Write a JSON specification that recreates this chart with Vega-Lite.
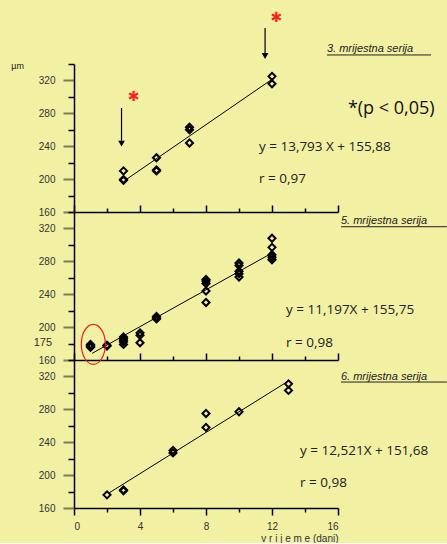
{
  "$schema": "https://vega.github.io/schema/vega-lite/v6.json",
  "background": "#f2f0a2",
  "padding": {"left": 11, "top": 10, "right": 0, "bottom": 0},
  "spacing": 0,
  "bounds": "flush",
  "datasets": {
    "pts": [
      {"panel": 1, "day": 3, "um": 210}, {"panel": 1, "day": 3, "um": 199.5}, {"panel": 1, "day": 3, "um": 198.5},
      {"panel": 1, "day": 5, "um": 226}, {"panel": 1, "day": 5, "um": 211}, {"panel": 1, "day": 5, "um": 210},
      {"panel": 1, "day": 7, "um": 263}, {"panel": 1, "day": 7, "um": 260}, {"panel": 1, "day": 7, "um": 244},
      {"panel": 1, "day": 12, "um": 325}, {"panel": 1, "day": 12, "um": 316},
      {"panel": 2, "day": 1, "um": 179}, {"panel": 2, "day": 1, "um": 178}, {"panel": 2, "day": 1, "um": 177}, {"panel": 2, "day": 1, "um": 176}, {"panel": 2, "day": 1, "um": 175.5},
      {"panel": 2, "day": 2, "um": 178}, {"panel": 2, "day": 2, "um": 177},
      {"panel": 2, "day": 3, "um": 188}, {"panel": 2, "day": 3, "um": 186}, {"panel": 2, "day": 3, "um": 184}, {"panel": 2, "day": 3, "um": 182}, {"panel": 2, "day": 3, "um": 179},
      {"panel": 2, "day": 4, "um": 193}, {"panel": 2, "day": 4, "um": 190}, {"panel": 2, "day": 4, "um": 181},
      {"panel": 2, "day": 5, "um": 213}, {"panel": 2, "day": 5, "um": 211}, {"panel": 2, "day": 5, "um": 210},
      {"panel": 2, "day": 8, "um": 258}, {"panel": 2, "day": 8, "um": 256}, {"panel": 2, "day": 8, "um": 253}, {"panel": 2, "day": 8, "um": 244}, {"panel": 2, "day": 8, "um": 230},
      {"panel": 2, "day": 10, "um": 278}, {"panel": 2, "day": 10, "um": 275}, {"panel": 2, "day": 10, "um": 268}, {"panel": 2, "day": 10, "um": 265}, {"panel": 2, "day": 10, "um": 261},
      {"panel": 2, "day": 12, "um": 308}, {"panel": 2, "day": 12, "um": 297}, {"panel": 2, "day": 12, "um": 288}, {"panel": 2, "day": 12, "um": 285}, {"panel": 2, "day": 12, "um": 282},
      {"panel": 3, "day": 2, "um": 176},
      {"panel": 3, "day": 3, "um": 182}, {"panel": 3, "day": 3, "um": 181},
      {"panel": 3, "day": 6, "um": 230}, {"panel": 3, "day": 6, "um": 227},
      {"panel": 3, "day": 8, "um": 275}, {"panel": 3, "day": 8, "um": 258},
      {"panel": 3, "day": 10, "um": 277},
      {"panel": 3, "day": 13, "um": 311}, {"panel": 3, "day": 13, "um": 303}
    ],
    "fit": [
      {"panel": 1, "x1": 3.1, "y1": 198.6, "x2": 12, "y2": 321.4},
      {"panel": 2, "x1": 1.1, "y1": 168.1, "x2": 12, "y2": 290.1},
      {"panel": 3, "x1": 2.1, "y1": 178, "x2": 13, "y2": 314.5}
    ],
    "eq": [
      {"panel": 1, "x": 11.21, "y": 239.4, "text": "y = 13,793 X + 155,88"},
      {"panel": 1, "x": 11.21, "y": 200.5, "text": "r = 0,97"},
      {"panel": 2, "x": 12.85, "y": 220.8, "text": "y = 11,197X + 155,75"},
      {"panel": 2, "x": 12.85, "y": 181.0, "text": "r = 0,98"},
      {"panel": 3, "x": 13.7, "y": 229.3, "text": "y = 12,521X + 151,68"},
      {"panel": 3, "x": 13.7, "y": 190.0, "text": "r = 0,98"}
    ],
    "titles": [
      {"panel": 1, "x": 15.33, "y": 357.9, "x2": 21.64, "uy": 351, "text": "3. mrijestna serija"},
      {"panel": 2, "x": 16.18, "y": 329.4, "x2": 22.6, "uy": 322.1, "text": "5. mrijestna serija"},
      {"panel": 3, "x": 16.18, "y": 319.7, "x2": 22.6, "uy": 313.2, "text": "6. mrijestna serija"}
    ],
    "arrows": [
      {"x": 2.88, "top": 286.5, "bottom": 246.4, "head": 243.1, "sx": 3.62, "sy": 299.9},
      {"x": 11.58, "top": 383.8, "bottom": 353.4, "head": 349.7, "sx": 12.27, "sy": 396.4}
    ]
  },
  "vconcat": [
    {
      "width": 264, "height": 148,
      "resolve": {"axis": {"x": "independent", "y": "independent"}},
      "layer": [
        {
          "data": {"name": "pts"},
          "transform": [{"filter": "datum.panel == 1"}],
          "mark": {"type": "point", "shape": "diamond", "filled": false, "stroke": "#000", "strokeWidth": 2, "size": 50, "opacity": 1},
          "encoding": {
            "x": {"field": "day", "type": "quantitative", "scale": {"domain": [0, 16], "nice": false, "zero": false},
              "axis": {"orient": "bottom", "title": null, "values": [0, 4, 8, 12, 16], "labels": false, "grid": false,
                "tickSize": -7, "tickColor": "#000", "tickWidth": 1.5, "domainColor": "#000", "domainWidth": 1.5}},
            "y": {"field": "um", "type": "quantitative", "scale": {"domain": [160, 340], "nice": false, "zero": false},
              "axis": {"orient": "left", "title": null, "grid": false, "values": [160, 200, 240, 280, 320], "labelOverlap": false,
                "tickSize": 11, "tickColor": "#7d7d55", "tickWidth": 2,
                "labelPadding": 8, "labelFont": "Liberation Sans", "labelFontSize": 10, "labelColor": "#333",
                "domainColor": "#000", "domainWidth": 1.5}}
          }
        },
        {
          "data": {"name": "fit"},
          "transform": [{"filter": "datum.panel == 1"}],
          "mark": {"type": "rule", "color": "#000", "strokeWidth": 1},
          "encoding": {
            "x": {"field": "x1", "type": "quantitative",
              "axis": {"orient": "bottom", "title": null, "values": [2, 6, 10, 14], "labels": false, "domain": false, "grid": false,
                "tickSize": -4, "tickColor": "#000", "tickWidth": 1.5}},
            "x2": {"field": "x2"},
            "y": {"field": "y1", "type": "quantitative",
              "axis": {"orient": "left", "title": null, "values": [180, 220, 260, 300, 340], "labels": false, "domain": false, "grid": false,
                "tickSize": 6, "tickColor": "#000", "tickWidth": 1.5}},
            "y2": {"field": "y2"}
          }
        },
        {
          "data": {"name": "eq"},
          "transform": [{"filter": "datum.panel == 1"}],
          "mark": {"type": "text", "align": "left", "baseline": "middle", "font": "Open Sans", "fontSize": 13.5, "color": "#222"},
          "encoding": {
            "x": {"field": "x", "type": "quantitative", "axis": null},
            "y": {"field": "y", "type": "quantitative", "axis": null},
            "text": {"field": "text"}
          }
        },
        {
          "data": {"name": "titles"},
          "transform": [{"filter": "datum.panel == 1"}],
          "mark": {"type": "text", "align": "left", "baseline": "middle", "font": "Liberation Sans", "fontSize": 11, "fontStyle": "italic", "color": "#222"},
          "encoding": {
            "x": {"field": "x", "type": "quantitative", "axis": null},
            "y": {"field": "y", "type": "quantitative", "axis": null},
            "text": {"field": "text"}
          }
        },
        {
          "data": {"name": "titles"},
          "transform": [{"filter": "datum.panel == 1"}],
          "mark": {"type": "rule", "color": "#222", "strokeWidth": 1},
          "encoding": {
            "x": {"field": "x", "type": "quantitative", "axis": null}, "x2": {"field": "x2"},
            "y": {"field": "uy", "type": "quantitative", "axis": null}
          }
        },
        {
          "data": {"values": [{"x": 16.6, "y": 285.3, "text": "*(p < 0,05)"}]},
          "mark": {"type": "text", "align": "left", "baseline": "middle", "font": "Open Sans", "fontSize": 18, "color": "#111"},
          "encoding": {
            "x": {"field": "x", "type": "quantitative", "axis": null},
            "y": {"field": "y", "type": "quantitative", "axis": null},
            "text": {"field": "text"}
          }
        },
        {
          "data": {"values": [{"x": -3.8, "y": 337.6, "text": "µm"}]},
          "mark": {"type": "text", "align": "left", "baseline": "middle", "font": "Liberation Sans", "fontSize": 9, "color": "#222"},
          "encoding": {
            "x": {"field": "x", "type": "quantitative", "axis": null},
            "y": {"field": "y", "type": "quantitative", "axis": null},
            "text": {"field": "text"}
          }
        },
        {
          "data": {"name": "arrows"},
          "mark": {"type": "rule", "color": "#000", "strokeWidth": 1.2},
          "encoding": {
            "x": {"field": "x", "type": "quantitative", "axis": null},
            "y": {"field": "top", "type": "quantitative", "axis": null}, "y2": {"field": "bottom"}
          }
        },
        {
          "data": {"name": "arrows"},
          "mark": {"type": "point", "shape": "triangle-down", "filled": true, "color": "#000", "size": 45, "opacity": 1},
          "encoding": {
            "x": {"field": "x", "type": "quantitative", "axis": null},
            "y": {"field": "head", "type": "quantitative", "axis": null}
          }
        },
        {
          "data": {"name": "arrows"},
          "mark": {"type": "text", "text": "✱", "align": "center", "baseline": "middle", "font": "DejaVu Sans", "fontSize": 14, "color": "#ff2020"},
          "encoding": {
            "x": {"field": "sx", "type": "quantitative", "axis": null},
            "y": {"field": "sy", "type": "quantitative", "axis": null}
          }
        }
      ]
    },
    {
      "width": 264, "height": 148,
      "resolve": {"axis": {"x": "independent", "y": "independent"}},
      "layer": [
        {
          "data": {"name": "pts"},
          "transform": [{"filter": "datum.panel == 2"}],
          "mark": {"type": "point", "shape": "diamond", "filled": false, "stroke": "#000", "strokeWidth": 2, "size": 50, "opacity": 1},
          "encoding": {
            "x": {"field": "day", "type": "quantitative", "scale": {"domain": [0, 16], "nice": false, "zero": false},
              "axis": {"orient": "bottom", "title": null, "values": [0, 4, 8, 12, 16], "labels": false, "grid": false,
                "tickSize": -7, "tickColor": "#000", "tickWidth": 1.5, "domainColor": "#000", "domainWidth": 1.5}},
            "y": {"field": "um", "type": "quantitative", "scale": {"domain": [160, 340], "nice": false, "zero": false},
              "axis": {"orient": "left", "title": null, "grid": false, "values": [160, 200, 240, 280, 320], "labelOverlap": false,
                "tickSize": 11, "tickColor": "#7d7d55", "tickWidth": 2,
                "labelPadding": 8, "labelFont": "Liberation Sans", "labelFontSize": 10, "labelColor": "#333",
                "domainColor": "#000", "domainWidth": 1.5}}
          }
        },
        {
          "data": {"name": "fit"},
          "transform": [{"filter": "datum.panel == 2"}],
          "mark": {"type": "rule", "color": "#000", "strokeWidth": 1},
          "encoding": {
            "x": {"field": "x1", "type": "quantitative",
              "axis": {"orient": "bottom", "title": null, "values": [2, 6, 10, 14], "labels": false, "domain": false, "grid": false,
                "tickSize": -4, "tickColor": "#000", "tickWidth": 1.5}},
            "x2": {"field": "x2"},
            "y": {"field": "y1", "type": "quantitative",
              "axis": {"orient": "left", "title": null, "values": [180, 220, 260, 300, 340], "labels": false, "domain": false, "grid": false,
                "tickSize": 6, "tickColor": "#000", "tickWidth": 1.5}},
            "y2": {"field": "y2"}
          }
        },
        {
          "data": {"name": "eq"},
          "transform": [{"filter": "datum.panel == 2"}],
          "mark": {"type": "text", "align": "left", "baseline": "middle", "font": "Open Sans", "fontSize": 13.5, "color": "#222"},
          "encoding": {
            "x": {"field": "x", "type": "quantitative", "axis": null},
            "y": {"field": "y", "type": "quantitative", "axis": null},
            "text": {"field": "text"}
          }
        },
        {
          "data": {"name": "titles"},
          "transform": [{"filter": "datum.panel == 2"}],
          "mark": {"type": "text", "align": "left", "baseline": "middle", "font": "Liberation Sans", "fontSize": 11, "fontStyle": "italic", "color": "#222"},
          "encoding": {
            "x": {"field": "x", "type": "quantitative", "axis": null},
            "y": {"field": "y", "type": "quantitative", "axis": null},
            "text": {"field": "text"}
          }
        },
        {
          "data": {"name": "titles"},
          "transform": [{"filter": "datum.panel == 2"}],
          "mark": {"type": "rule", "color": "#222", "strokeWidth": 1},
          "encoding": {
            "x": {"field": "x", "type": "quantitative", "axis": null}, "x2": {"field": "x2"},
            "y": {"field": "uy", "type": "quantitative", "axis": null}
          }
        },
        {
          "data": {"values": [{"x": -1.33, "y": 180.3, "text": "175"}]},
          "mark": {"type": "text", "align": "right", "baseline": "middle", "font": "Liberation Sans", "fontSize": 11, "color": "#333"},
          "encoding": {
            "x": {"field": "x", "type": "quantitative", "axis": null},
            "y": {"field": "y", "type": "quantitative", "axis": null},
            "text": {"field": "text"}
          }
        },
        {
          "data": {"values": [{"x": 1.17, "y": 179.1}]},
          "mark": {"type": "point", "shape": "M 0,-1 A 0.6,1 0 1,1 0,1 A 0.6,1 0 1,1 0,-1 Z", "filled": false, "stroke": "#e82020", "strokeWidth": 1.2, "size": 1600, "opacity": 1},
          "encoding": {
            "x": {"field": "x", "type": "quantitative", "axis": null},
            "y": {"field": "y", "type": "quantitative", "axis": null}
          }
        }
      ]
    },
    {
      "width": 264, "height": 148,
      "resolve": {"axis": {"x": "independent", "y": "independent"}},
      "layer": [
        {
          "data": {"name": "pts"},
          "transform": [{"filter": "datum.panel == 3"}],
          "mark": {"type": "point", "shape": "diamond", "filled": false, "stroke": "#000", "strokeWidth": 2, "size": 50, "opacity": 1},
          "encoding": {
            "x": {"field": "day", "type": "quantitative", "scale": {"domain": [0, 16], "nice": false, "zero": false},
              "axis": {"orient": "bottom", "title": "v r i j e m e (dani)", "titleAnchor": "end", "titleFont": "Liberation Sans", "titleFontSize": 10, "titleFontWeight": "normal", "titleColor": "#333", "titlePadding": 2,
                "values": [0, 4, 8, 12, 16], "grid": false, "labelOverlap": false,
                "tickSize": 7, "labelPadding": 6, "labelFont": "Liberation Sans", "labelFontSize": 10, "labelColor": "#333",
                "tickColor": "#000", "tickWidth": 1.5, "domainColor": "#000", "domainWidth": 1.5}},
            "y": {"field": "um", "type": "quantitative", "scale": {"domain": [160, 340], "nice": false, "zero": false},
              "axis": {"orient": "left", "title": null, "grid": false, "values": [160, 200, 240, 280, 320], "labelOverlap": false,
                "tickSize": 11, "tickColor": "#7d7d55", "tickWidth": 2,
                "labelPadding": 8, "labelFont": "Liberation Sans", "labelFontSize": 10, "labelColor": "#333",
                "domainColor": "#000", "domainWidth": 1.5}}
          }
        },
        {
          "data": {"name": "fit"},
          "transform": [{"filter": "datum.panel == 3"}],
          "mark": {"type": "rule", "color": "#000", "strokeWidth": 1},
          "encoding": {
            "x": {"field": "x1", "type": "quantitative",
              "axis": {"orient": "bottom", "title": null, "values": [2, 6, 10, 14], "labels": false, "domain": false, "grid": false,
                "tickSize": 4, "tickColor": "#000", "tickWidth": 1.5}},
            "x2": {"field": "x2"},
            "y": {"field": "y1", "type": "quantitative",
              "axis": {"orient": "left", "title": null, "values": [180, 220, 260, 300, 340], "labels": false, "domain": false, "grid": false,
                "tickSize": 6, "tickColor": "#000", "tickWidth": 1.5}},
            "y2": {"field": "y2"}
          }
        },
        {
          "data": {"name": "eq"},
          "transform": [{"filter": "datum.panel == 3"}],
          "mark": {"type": "text", "align": "left", "baseline": "middle", "font": "Open Sans", "fontSize": 13.5, "color": "#222"},
          "encoding": {
            "x": {"field": "x", "type": "quantitative", "axis": null},
            "y": {"field": "y", "type": "quantitative", "axis": null},
            "text": {"field": "text"}
          }
        },
        {
          "data": {"name": "titles"},
          "transform": [{"filter": "datum.panel == 3"}],
          "mark": {"type": "text", "align": "left", "baseline": "middle", "font": "Liberation Sans", "fontSize": 11, "fontStyle": "italic", "color": "#222"},
          "encoding": {
            "x": {"field": "x", "type": "quantitative", "axis": null},
            "y": {"field": "y", "type": "quantitative", "axis": null},
            "text": {"field": "text"}
          }
        },
        {
          "data": {"name": "titles"},
          "transform": [{"filter": "datum.panel == 3"}],
          "mark": {"type": "rule", "color": "#222", "strokeWidth": 1},
          "encoding": {
            "x": {"field": "x", "type": "quantitative", "axis": null}, "x2": {"field": "x2"},
            "y": {"field": "uy", "type": "quantitative", "axis": null}
          }
        }
      ]
    }
  ],
  "config": {"view": {"stroke": null}, "axis": {"labelOverlap": false}}
}
